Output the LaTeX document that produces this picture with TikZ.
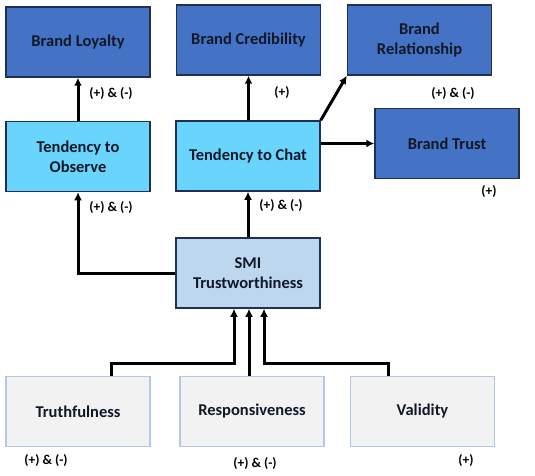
\documentclass[tikz,border=0pt]{standalone}
\usepackage{fontspec}
\setmainfont{Carlito}
\usetikzlibrary{arrows.meta}
\definecolor{darkblue}{HTML}{4472C4}
\definecolor{cyanfill}{HTML}{69D5FC}
\definecolor{smifill}{HTML}{BDD7EE}
\definecolor{greyfill}{HTML}{F2F2F2}
\definecolor{greyborder}{HTML}{B4C7E7}
\definecolor{navy}{HTML}{1F3050}
\definecolor{txt}{HTML}{111827}
\tikzset{
  box/.style={draw=navy, line width=1.5pt, minimum width=144pt, minimum height=70pt, inner sep=0pt, align=center, font=\fontsize{16.5}{20}\selectfont\bfseries, text=txt},
  topbox/.style={box, fill=darkblue},
  midbox/.style={box, fill=cyanfill},
  smibox/.style={box, fill=smifill},
  basebox/.style={box, fill=greyfill, draw=greyborder},
  conn/.style={line width=3pt, -{Latex[length=8pt,width=8pt]}},
  lab/.style={font=\fontsize{13.5}{15}\selectfont\bfseries, text=black, inner sep=0pt}
}
\begin{document}
\begin{tikzpicture}[x=1pt,y=-1pt]
\useasboundingbox (0,0) rectangle (535,476);
\node[topbox] (loyal) at (78,42) {Brand Loyalty};
\node[topbox] (cred) at (248.5,40) {Brand Credibility};
\node[topbox] (rel) at (419.5,40) {Brand\\Relationship};
\node[midbox] (obs) at (78,156.5) {Tendency to\\Observe};
\node[midbox] (chat) at (248,156) {Tendency to Chat};
\node[topbox] (trust) at (447,143.5) {Brand Trust};
\node[smibox] (smi) at (248,273) {SMI\\Trustworthiness};
\node[basebox] (truth) at (78,411.5) {Truthfulness};
\node[basebox] (resp) at (252,411.5) {Responsiveness};
\node[basebox] (valid) at (422.5,411.5) {Validity};

\node[lab] (l1) at (111,94) {(+) \& (-)};
\node[lab] (l2) at (282,93) {(+)};
\node[lab] (l3) at (453,94) {(+) \& (-)};
\node[lab] (l4) at (489,192) {(+)};
\node[lab] (l5) at (111,208) {(+) \& (-)};
\node[lab] (l6) at (281,206) {(+) \& (-)};
\node[lab] (l7) at (46,461) {(+) \& (-)};
\node[lab] (l8) at (255,464) {(+) \& (-)};
\node[lab] (l9) at (466,461) {(+)};

\draw[conn] (obs.north) -- (loyal.south);
\draw[conn] (chat.north -| cred.south) -- (cred.south);
\draw[conn] (chat.north east) -- (rel.south west);
\draw[conn] (chat.east |- trust.west) -- (trust.west);
\draw[conn] (smi.west) -| (obs.south);
\draw[conn] (smi.north -| chat.south) -- (chat.south);
\coordinate (tj) at (111,363);
\coordinate (vj) at (388,363);
\draw[conn] (truth.north -| tj) |- ([xshift=-14pt]smi.south |- tj) -- ([xshift=-14pt]smi.south);
\draw[conn] (resp.north -| 249,0) -- (smi.south -| 249,0);
\draw[conn] (valid.north -| vj) |- ([xshift=16pt]smi.south |- vj) -- ([xshift=16pt]smi.south);
\end{tikzpicture}
\end{document}
